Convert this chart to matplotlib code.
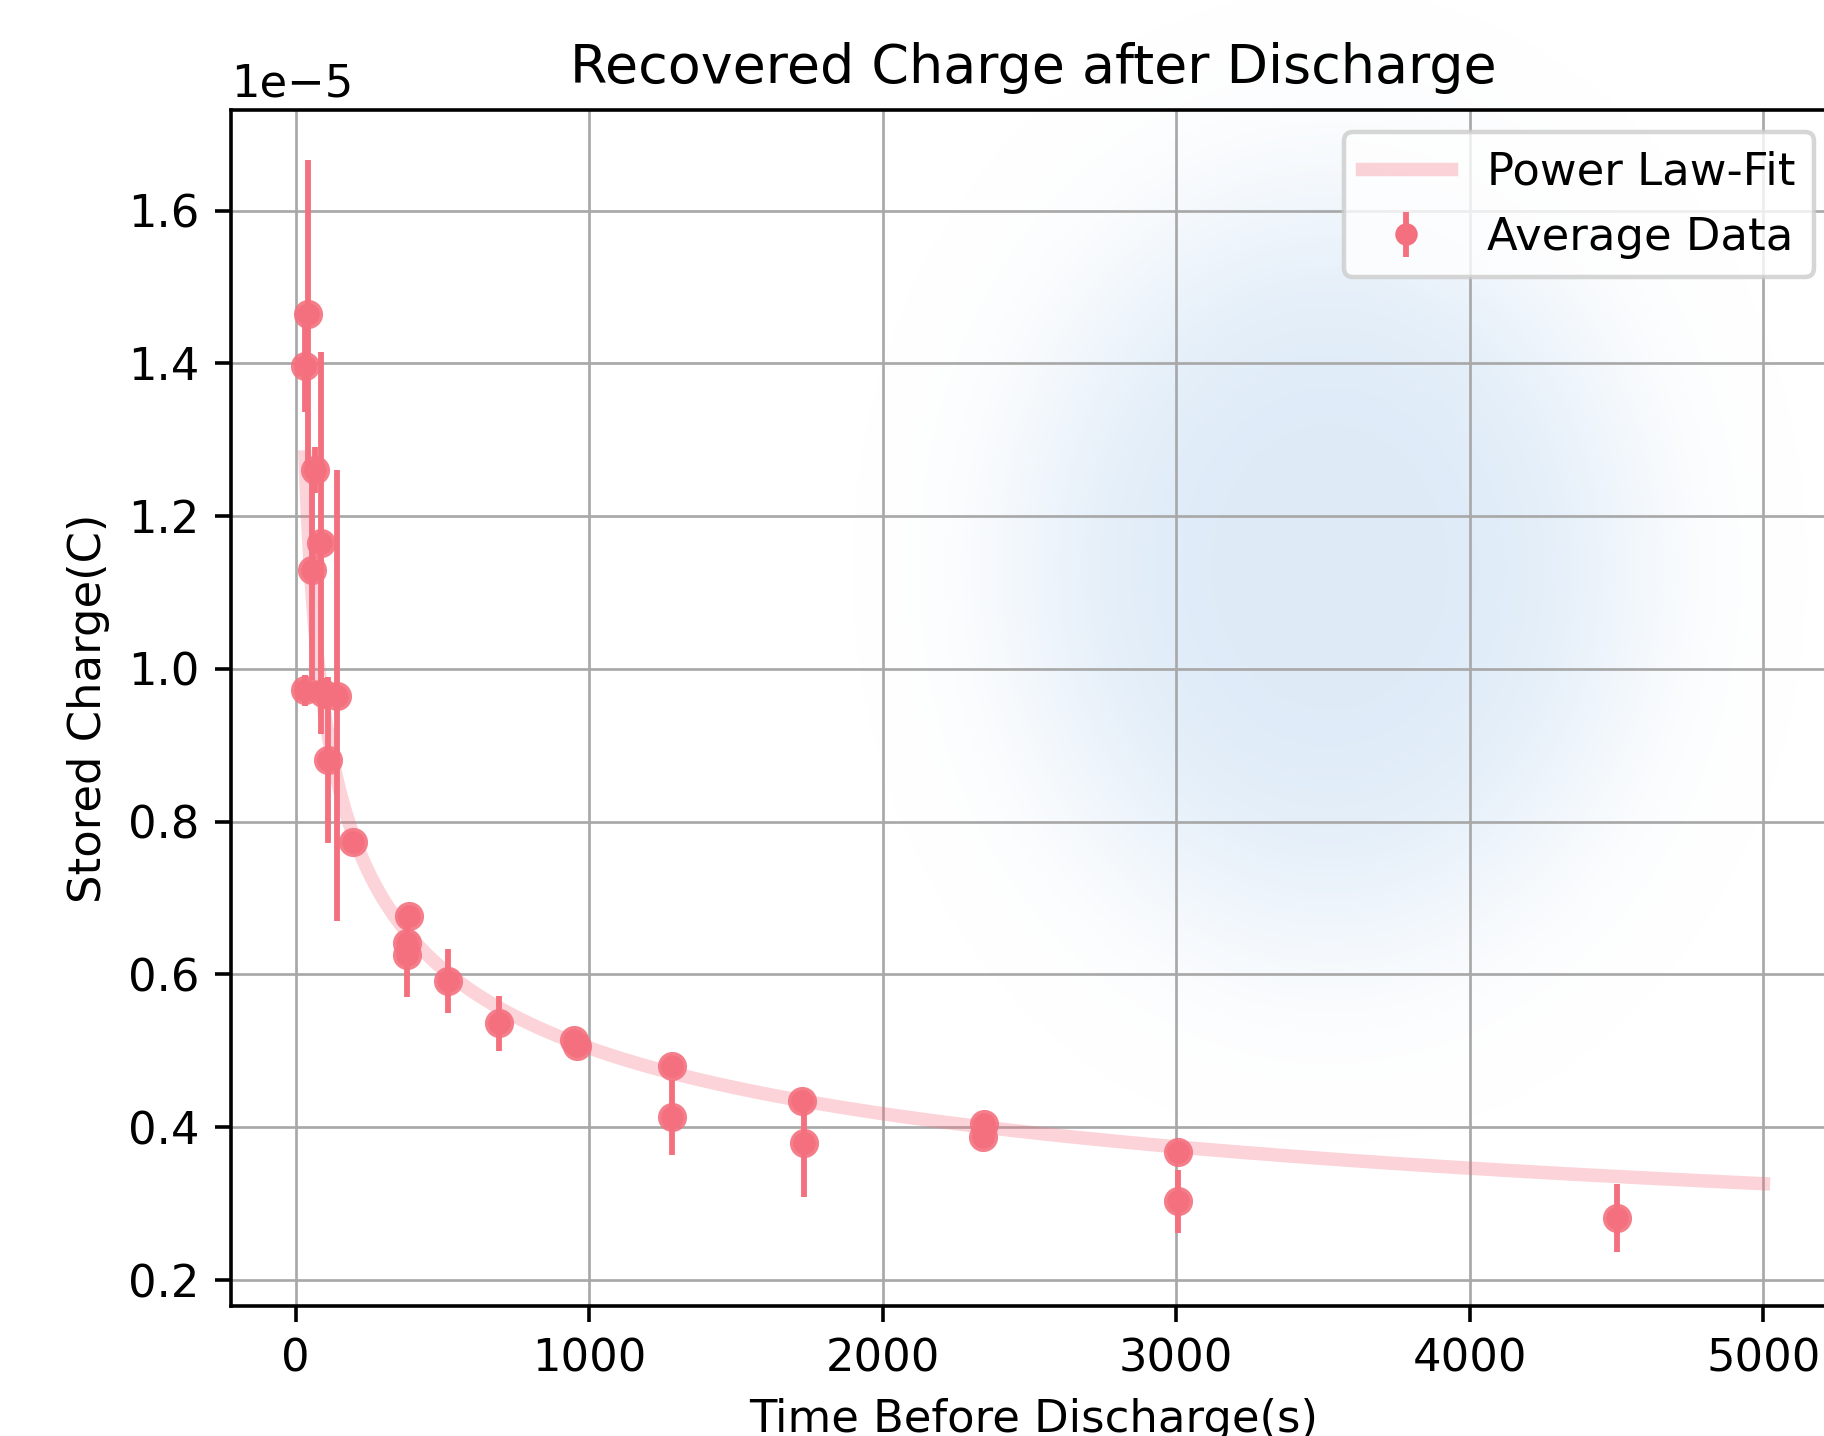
import numpy as np
import matplotlib
matplotlib.use("Agg")
import matplotlib.pyplot as plt

# ---------------- data (charge in units of 1e-5 C) ----------------
times = [32, 32, 43, 55, 66, 87, 94, 111, 142, 197, 378, 378, 387, 518, 694,
         950, 960, 1281, 1281, 1724, 1732, 2340, 2345, 3005, 3005, 4500]
charge_e5 = [0.972, 1.397, 1.465, 1.130, 1.261, 1.165, 0.968, 0.881, 0.965, 0.773,
             0.641, 0.626, 0.677, 0.592, 0.536, 0.514, 0.506, 0.480, 0.413, 0.434,
             0.379, 0.387, 0.404, 0.368, 0.303, 0.281]
errors_e5 = [0.02, 0.06, 0.201, 0.144, 0.03, 0.25, 0.02, 0.109, 0.295, 0.01,
             0.01, 0.055, 0.01, 0.042, 0.036, 0.01, 0.01, 0.01, 0.049, 0.01,
             0.07, 0.01, 0.01, 0.01, 0.0415, 0.0443]
# power-law fit parameters: Q = A * t**B
fit_A_e5 = 3.26
fit_B = -0.2703
fit_t_end = 5000

title = "Recovered Charge after Discharge"
xlabel = "Time Before Discharge(s)"
ylabel = "Stored Charge(C)"
fit_label = "Power Law-Fit"
data_label = "Average Data"

# ---------------- styling ----------------
W, H = 1825, 1436
DPI = 323.5
color = "#f4707f"

t = np.array(times, dtype=float)
q = np.array(charge_e5) * 1e-5
qerr = np.array(errors_e5) * 1e-5
t_fit = np.linspace(t.min(), fit_t_end, 600)
q_fit = fit_A_e5 * 1e-5 * t_fit ** fit_B

fig = plt.figure(figsize=(W / DPI, H / DPI), dpi=DPI, facecolor="white")

# soft blue background blob
bg = fig.add_axes([0, 0, 1, 1], zorder=0)
bg.set_xlim(0, W)
bg.set_ylim(H, 0)
bg.axis("off")
yy, xx = np.mgrid[0:H:4, 0:W:4]
cx, cy, sx, sy = 1330, 565, 315, 380
r2 = ((xx - cx) / sx) ** 2 + ((yy - cy) / sy) ** 2
alpha = 0.8 * np.exp(-(r2 ** 2))
rgba = np.zeros(xx.shape + (4,))
rgba[..., 0] = 0.84
rgba[..., 1] = 0.905
rgba[..., 2] = 0.965
rgba[..., 3] = alpha
bg.imshow(rgba, extent=[0, W, H, 0], aspect="auto", interpolation="bilinear")

# main axes (pixel layout of the reference)
left, right, top, bottom = 230.8, 1836.3, 110.0, 1306.0
ax = fig.add_axes([left / W, (H - bottom) / H, (right - left) / W, (bottom - top) / H], zorder=1)
ax.set_facecolor("none")

ax.plot(t_fit, q_fit, color=color, alpha=0.3, lw=3, label=fit_label, zorder=2)
ax.errorbar(t, q, yerr=qerr, fmt="o", color=color, ms=4, elinewidth=1.3,
            capsize=0, label=data_label, zorder=3)
ax.scatter(t, q, s=42, color=color, alpha=0.9, linewidths=0, zorder=4)

ax.set_xlim(-220.7, 5248.5)
ax.set_ylim(0.166e-5, 1.7318e-5)
ax.set_xticks([0, 1000, 2000, 3000, 4000, 5000])
ax.set_yticks(np.array([0.2, 0.4, 0.6, 0.8, 1.0, 1.2, 1.4, 1.6]) * 1e-5)
ax.grid(True, color="#a8a8a8", lw=0.6)
ax.set_axisbelow(True)

ax.set_title(title, fontsize=12)
ax.set_xlabel(xlabel, fontsize=10)
ax.set_ylabel(ylabel, fontsize=10)
ax.tick_params(labelsize=10)
ax.legend(loc="upper right", fontsize=10)

fig.savefig("out.png", dpi=DPI, facecolor="white")
